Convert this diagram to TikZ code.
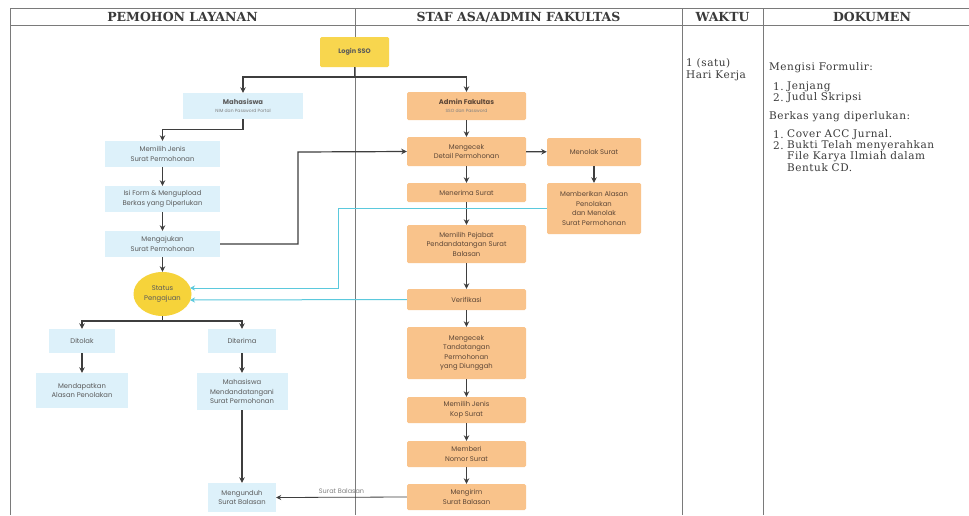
\documentclass[tikz,border=0pt]{standalone}
\usepackage{fontspec}
\usetikzlibrary{shapes.geometric,arrows.meta,calc}
\newfontfamily\bfont{Poppins}
\newfontfamily\serfont{DejaVu Serif}
\newfontfamily\docfont[LetterSpace=5]{DejaVu Serif}
\definecolor{lblue}{HTML}{DDF1FA}
\definecolor{lorange}{HTML}{F9C38B}
\definecolor{lyellow}{HTML}{F8D64E}
\definecolor{syellow}{HTML}{F6D33A}
\definecolor{cyanln}{HTML}{5BC9DD}
\definecolor{txtgray}{HTML}{5A5A5A}
\definecolor{otxt}{HTML}{5C4636}
\definecolor{arrgray}{HTML}{3E3E3E}
\definecolor{tblgray}{HTML}{7A7A7A}
\definecolor{doctxt}{HTML}{3A3A3A}
\tikzset{
  base/.style={inner sep=0pt, align=center, font=\bfont\fontsize{6.8}{9.5}\selectfont, text=txtgray},
  bbox/.style={base, fill=lblue},
  obox/.style={base, fill=lorange, text=otxt, rounded corners=1.5pt},
  arr/.style={draw=arrgray, line width=1.2pt, -{Stealth[length=5.5pt,width=5.5pt]}},
  ln/.style={draw=arrgray, line width=1.2pt},
  carr/.style={draw=cyanln, line width=1pt, -{Stealth[length=5pt,width=5pt]}},
  tbl/.style={draw=tblgray, line width=0.8pt},
  hdr/.style={font=\serfont\bfseries\fontsize{12.5}{14}\selectfont, text=doctxt, inner sep=0pt},
  doc/.style={font=\docfont\fontsize{10.5}{12}\selectfont, text=doctxt, inner sep=0pt, anchor=west},
}
\newcommand{\subt}[1]{{\fontsize{4.5}{6}\selectfont\color{gray}#1}}
\begin{document}
\begin{tikzpicture}[x=1pt,y=-1pt]
\useasboundingbox (0,0) rectangle (969,515);
\fill[white] (0,0) rectangle (969,515);
% table
\draw[tbl] (10,8) -- (969,8);
\draw[tbl] (10,25) -- (969,25);
\draw[tbl] (10,8) -- (10,515);
\draw[tbl] (355,8) -- (355,515);
\draw[tbl] (682,8) -- (682,515);
\draw[tbl] (763,8) -- (763,515);
\node[hdr] (h1) at (182.5,17) {PEMOHON LAYANAN};
\node[hdr] (h2) at (518.5,17) {STAF ASA/ADMIN FAKULTAS};
\node[hdr] (h3) at (722.5,17) {WAKTU};
\node[hdr] (h4) at (872,17) {DOKUMEN};
% waktu / dokumen
\node[doc] (w1) at (686,63) {1 (satu)};
\node[doc] (w2) at (686,76) {Hari Kerja};
\node[doc] (d1) at (769,68) {Mengisi Formulir:};
\node[doc] (d2a) at (773,87) {1.};
\node[doc] (d2) at (787,87) {Jenjang};
\node[doc] (d3a) at (773,98) {2.};
\node[doc] (d3) at (787,98) {Judul Skripsi};
\node[doc] (d4) at (769,117) {Berkas yang diperlukan:};
\node[doc] (d5a) at (773,135) {1.};
\node[doc] (d5) at (787,135) {Cover ACC Jurnal.};
\node[doc] (d6a) at (773,146) {2.};
\node[doc] (d6) at (787,146) {Bukti Telah menyerahkan};
\node[doc] (d7) at (787,157) {File Karya Ilmiah dalam};
\node[doc] (d8) at (787,168) {Bentuk CD.};
% nodes
\node[base, fill=lyellow, rounded corners=1.5pt, minimum width=69pt, minimum height=30pt, font=\bfont\bfseries\fontsize{6.5}{9.5}\selectfont] (login) at (354.5,52) {Login SSO};
\node[bbox, minimum width=120pt, minimum height=26pt] (mhs) at (243,106) {\textbf{Mahasiswa}\\[-2pt]\subt{NIM dan Password Portal}};
\node[obox, minimum width=119pt, minimum height=28pt] (adm) at (466.5,106) {\textbf{Admin Fakultas}\\[-2pt]\subt{SSO dan Password}};
\node[bbox, minimum width=115pt, minimum height=26pt] (pilih) at (162.5,154) {Memilih Jenis\\Surat Permohonan};
\node[bbox, minimum width=115pt, minimum height=26pt] (isi) at (162.5,199) {Isi Form \& Mengupload\\Berkas yang Diperlukan};
\node[bbox, minimum width=115pt, minimum height=26pt] (ajukan) at (162.5,244) {Mengajukan\\Surat Permohonan};
\node[base, ellipse, fill=syellow, minimum width=58pt, minimum height=44pt] (status) at (162.5,294) {Status\\Pengajuan};
\node[bbox, minimum width=66pt, minimum height=24pt] (ditolak) at (82,341) {Ditolak};
\node[bbox, minimum width=68pt, minimum height=24pt] (diterima) at (242,341) {Diterima};
\node[bbox, minimum width=92pt, minimum height=35pt] (dapat) at (82,390.5) {Mendapatkan\\Alasan Penolakan};
\node[bbox, minimum width=91pt, minimum height=37pt] (ttdmhs) at (242,391.5) {Mahasiswa\\Mendandatangani\\Surat Permohonan};
\node[bbox, minimum width=68pt, minimum height=29pt] (unduh) at (242,497.5) {Mengunduh\\Surat Balasan};
\node[obox, minimum width=119pt, minimum height=29pt] (cek) at (466.5,151.5) {Mengecek\\Detail Permohonan};
\node[obox, minimum width=119pt, minimum height=19pt] (terima) at (466.5,192.5) {Menerima Surat};
\node[obox, minimum width=119pt, minimum height=38pt] (pejabat) at (466.5,244) {Memilih Pejabat\\Pendandatangan Surat\\Balasan};
\node[obox, minimum width=119pt, minimum height=21pt] (verif) at (466.5,299.5) {Verifikasi};
\node[obox, minimum width=119pt, minimum height=52pt] (ttd) at (466.5,353) {Mengecek\\Tandatangan\\Permohonan\\yang Diunggah};
\node[obox, minimum width=119pt, minimum height=26pt] (kop) at (466.5,410) {Memilih Jenis\\Kop Surat};
\node[obox, minimum width=119pt, minimum height=26pt] (nomor) at (466.5,454) {Memberi\\Nomor Surat};
\node[obox, minimum width=119pt, minimum height=26pt] (kirim) at (466.5,497) {Mengirim\\Surat Balasan};
\node[obox, minimum width=94pt, minimum height=28pt] (tolak) at (594,152) {Menolak Surat};
\node[obox, minimum width=94pt, minimum height=51pt] (alasan) at (594,208.5) {Memberikan Alasan\\Penolakan\\dan Menolak\\Surat Permohonan};
% coordinates
\coordinate (j1) at (354.5,77);
\coordinate (k1) at (298,152);
\coordinate (c1) at (338,208.5);
\coordinate (s1) at (190,288);
\coordinate (s2) at (190,300);
\coordinate (j3) at (162.5,321);
% connectors
\draw[ln] (login.south) -- (j1);
\draw[arr] (j1) -| (mhs.north);
\draw[arr] (j1) -| (adm.north);
\draw[arr] (mhs.south) -- ++(0,10) -| (pilih.north);
\draw[arr] (pilih) -- (isi);
\draw[arr] (isi) -- (ajukan);
\draw[arr] (ajukan) -- (status);
\draw[arr] (ajukan.east) -| (k1) -- (cek.west);
\draw[arr] (adm) -- (cek);
\draw[arr] (cek) -- (terima);
\draw[arr] (terima) -- (pejabat);
\draw[arr] (pejabat) -- (verif);
\draw[arr] (verif) -- (ttd);
\draw[arr] (ttd) -- (kop);
\draw[arr] (kop) -- (nomor);
\draw[arr] (nomor) -- (kirim);
\draw[arr] (cek) -- (tolak);
\draw[arr] (tolak) -- (alasan);
\draw[carr] (alasan.west) -- (c1) |- (s1);
\draw[carr] (verif.west) -- (s2);
\draw[ln] (status.south) -- (j3);
\draw[arr] (j3) -| (ditolak.north);
\draw[arr] (j3) -| (diterima.north);
\draw[arr] (ditolak) -- (dapat);
\draw[arr] (diterima) -- (ttdmhs);
\draw[arr] (ttdmhs) -- (unduh);
\draw[draw=arrgray, line width=0.8pt, -{Stealth[length=5pt,width=5pt]}] (kirim.west) -- node[above=3pt, font=\bfont\fontsize{6.5}{8}\selectfont, text=gray, inner sep=0pt] (lbl) {Surat Balasan} (unduh.east);
\end{tikzpicture}
\end{document}
